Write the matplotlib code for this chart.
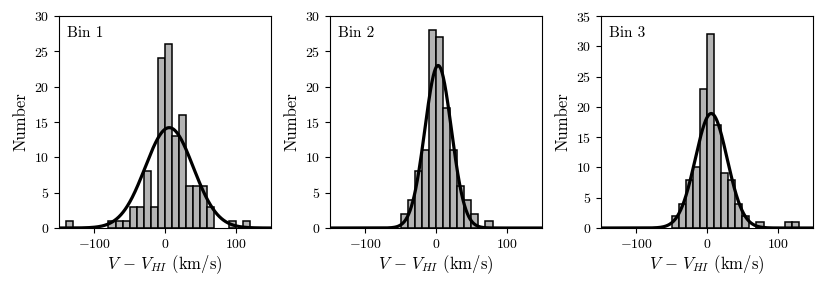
import numpy as np
import matplotlib
matplotlib.use("Agg")
import matplotlib.pyplot as plt

plt.rcParams["font.family"] = "serif"
plt.rcParams["font.serif"] = ["cmr10"]
plt.rcParams["mathtext.fontset"] = "cm"
plt.rcParams["axes.formatter.use_mathtext"] = True

# histogram bins: 10 km/s wide, left edges from -140 to 120
bin_left = [-140, -130, -120, -110, -100, -90, -80, -70, -60, -50, -40, -30, -20,
            -10, 0, 10, 20, 30, 40, 50, 60, 70, 80, 90, 100, 110, 120]

counts_bin1 = [1, 0, 0, 0, 0, 0, 1, 1, 1, 3, 3, 8, 3,
               24, 26, 13, 16, 6, 6, 6, 3, 0, 0, 1, 0, 1, 0]
counts_bin2 = [0, 0, 0, 0, 0, 0, 0, 0, 0, 2, 4, 8, 11,
               28, 27, 17, 11, 6, 4, 2, 0, 1, 0, 0, 0, 0, 0]
counts_bin3 = [0, 0, 0, 0, 0, 0, 0, 0, 0, 2, 4, 8, 10,
               23, 32, 17, 9, 8, 4, 2, 0, 1, 0, 0, 0, 1, 1]

# gaussian fits: (mean, sigma, amplitude)
fit_bin1 = (6, 34, 14.2)
fit_bin2 = (3, 18.8, 23.0)
fit_bin3 = (6, 22.5, 18.9)

titles = ["Bin 1", "Bin 2", "Bin 3"]
ylims = [30, 30, 35]

fig = plt.figure(figsize=(8.3, 2.85), dpi=100)
lefts = [59, 330, 601]
axes = [fig.add_axes([l / 830, 57 / 285, 212 / 830, 212 / 285]) for l in lefts]

xx = np.linspace(-150, 150, 600)
for ax, counts, fit, title, ytop in zip(axes, [counts_bin1, counts_bin2, counts_bin3],
                                        [fit_bin1, fit_bin2, fit_bin3], titles, ylims):
    left = np.array(bin_left)
    c = np.array(counts)
    m = c > 0
    ax.bar(left[m], c[m], width=10, align="edge", color="#b4b4b4",
           edgecolor="black", linewidth=1.1)
    mu, sig, amp = fit
    ax.plot(xx, amp * np.exp(-(xx - mu) ** 2 / (2 * sig ** 2)), color="black", lw=2.3)
    ax.set_xlim(-150, 150)
    ax.set_ylim(0, ytop)
    ax.set_xticks([-100, 0, 100])
    ax.set_yticks(np.arange(0, ytop + 1, 5))
    ax.tick_params(labelsize=10)
    ax.set_xlabel(r"$V\,-\,V_{HI}$ (km/s)", fontsize=12, labelpad=2)
    ax.set_ylabel("Number", fontsize=12)
    ax.text(0.04, 0.95, title, transform=ax.transAxes, ha="left", va="top", fontsize=11)

fig.savefig("out.png", dpi=100)
